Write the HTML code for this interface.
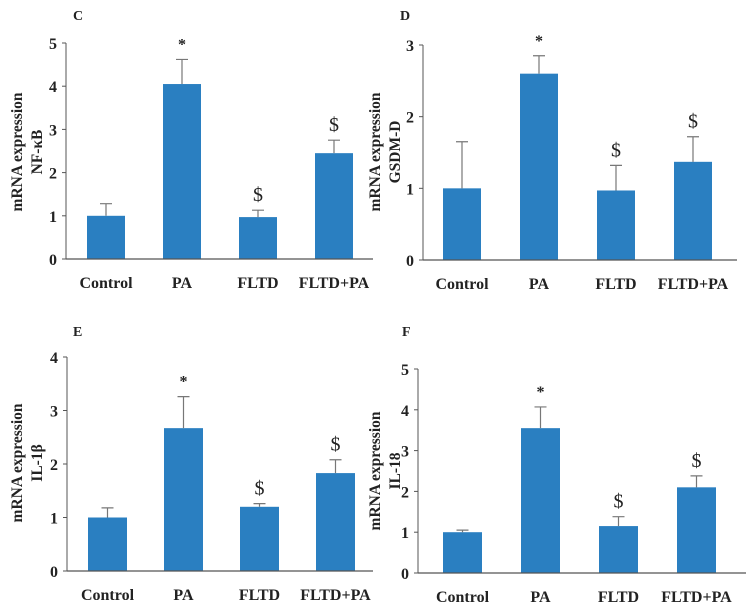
<!DOCTYPE html>
<html><head><meta charset="utf-8"><style>
body{margin:0;background:#fff;width:746px;height:607px;overflow:hidden}
svg text{font-family:"Liberation Serif",serif;font-weight:bold;fill:#222}
svg text.norm{font-weight:normal}
</style></head><body>
<svg id="fig" width="746" height="607" viewBox="0 0 746 607" xmlns="http://www.w3.org/2000/svg"></svg>
<script>
const categories = ["Control","PA","FLTD","FLTD+PA"];
const cValues = [1.0,4.05,0.97,2.45];
const cErrTop = [1.28,4.62,1.13,2.75];
const cMarks = ["","*","$","$"];
const dValues = [1.0,2.6,0.97,1.37];
const dErrTop = [1.65,2.85,1.32,1.72];
const dMarks = ["","*","$","$"];
const eValues = [1.0,2.67,1.2,1.83];
const eErrTop = [1.18,3.26,1.26,2.08];
const eMarks = ["","*","$","$"];
const fValues = [1.0,3.55,1.15,2.1];
const fErrTop = [1.05,4.07,1.38,2.38];
const fMarks = ["","*","$","$"];
const cTicks = [0,1,2,3,4,5];
const dTicks = [0,1,2,3];
const eTicks = [0,1,2,3,4];
const fTicks = [0,1,2,3,4,5];

const svg = document.getElementById('fig');
const NS = 'http://www.w3.org/2000/svg';
function mk(tag, attrs, parent){const e=document.createElementNS(NS,tag);for(const k in attrs)e.setAttribute(k,attrs[k]);(parent||svg).appendChild(e);return e;}

function panel(cfg){
  const g = mk('g',{});
  
  
  const ymax = cfg.ticks[cfg.ticks.length-1];
  const y = v => cfg.y0 - (cfg.y0-cfg.yTop)*v/ymax;
  const xs = i => cfg.xStart + i*cfg.step;
  const lt = mk('text',{x:cfg.lx,y:cfg.ly,'font-size':14},g); lt.textContent=cfg.letter;
  
  
  const ya = mk('line',{x1:cfg.ax,y1:cfg.yTop,x2:cfg.ax,y2:cfg.y0,stroke:'#555','stroke-width':1},g);
  
  
  cfg.ticks.forEach(t=>{
    mk('line',{x1:cfg.ax-4,y1:y(t),x2:cfg.ax,y2:y(t),stroke:'#555'},g);
    const tx = mk('text',{x:cfg.ax-9,y:y(t)+6,'font-size':16,'text-anchor':'end'},g);
    tx.textContent=t;
    
    
  });
  const yl = mk('text',{transform:`translate(${cfg.ylx},${cfg.yly}) rotate(-90)`,'font-size':15.5,'text-anchor':'middle'},g);
  
  
  const t1 = mk('tspan',{x:0,dy:0},yl); t1.textContent='mRNA expression';
  const t2 = mk('tspan',{x:0,dy:20},yl); t2.textContent=cfg.gene;
  cfg.values.forEach((v,i)=>{
    const x0 = xs(i);
    const b = mk('rect',{x:x0,y:y(v),width:cfg.bw,height:cfg.y0-y(v),fill:'#2a7fc1'},g);
    
    
    const cx = x0+cfg.bw/2;
    const el = mk('path',{d:`M${cx},${y(v)}V${y(cfg.err[i])}M${cx-6},${y(cfg.err[i])}H${cx+6}`,stroke:'#777','stroke-width':1.2,fill:'none'},g);
    
    
    if(cfg.marks[i]){
      const star = cfg.marks[i]==='*';
      const m = mk('text',{x:cx,y:y(cfg.err[i])-(star?10:9),'font-size':star?16:20,'text-anchor':'middle'},g);
      if(!star) m.setAttribute('class','norm');
      m.textContent=cfg.marks[i];
      
      
    }
    const c = mk('text',{x:cx,y:cfg.y0+29,'font-size':16,'text-anchor':'middle'},g);
    c.textContent=categories[i];
    
    
  });
  const xa = mk('line',{x1:cfg.ax,y1:cfg.y0,x2:cfg.xEnd,y2:cfg.y0,stroke:'#555','stroke-width':1.2},g);
  
  
}

panel({letter:'C',lx:73,ly:20,gene:'NF-κB',values:cValues,err:cErrTop,marks:cMarks,ticks:cTicks,ax:66,y0:259,yTop:43,xStart:87,step:76,bw:38,xEnd:373,ylx:22,yly:152});
panel({letter:'D',lx:400,ly:20,gene:'GSDM-D',values:dValues,err:dErrTop,marks:dMarks,ticks:dTicks,ax:423,y0:260,yTop:45,xStart:443,step:77,bw:38,xEnd:737,ylx:380,yly:152});
panel({letter:'E',lx:73,ly:336,gene:'IL-1β',values:eValues,err:eErrTop,marks:eMarks,ticks:eTicks,ax:67,y0:571,yTop:357,xStart:88,step:76,bw:39,xEnd:373,ylx:22,yly:463});
panel({letter:'F',lx:402,ly:336,gene:'IL-18',values:fValues,err:fErrTop,marks:fMarks,ticks:fTicks,ax:418,y0:573,yTop:369,xStart:443,step:78,bw:39,xEnd:746,ylx:380,yly:471});
</script>
</body></html>
